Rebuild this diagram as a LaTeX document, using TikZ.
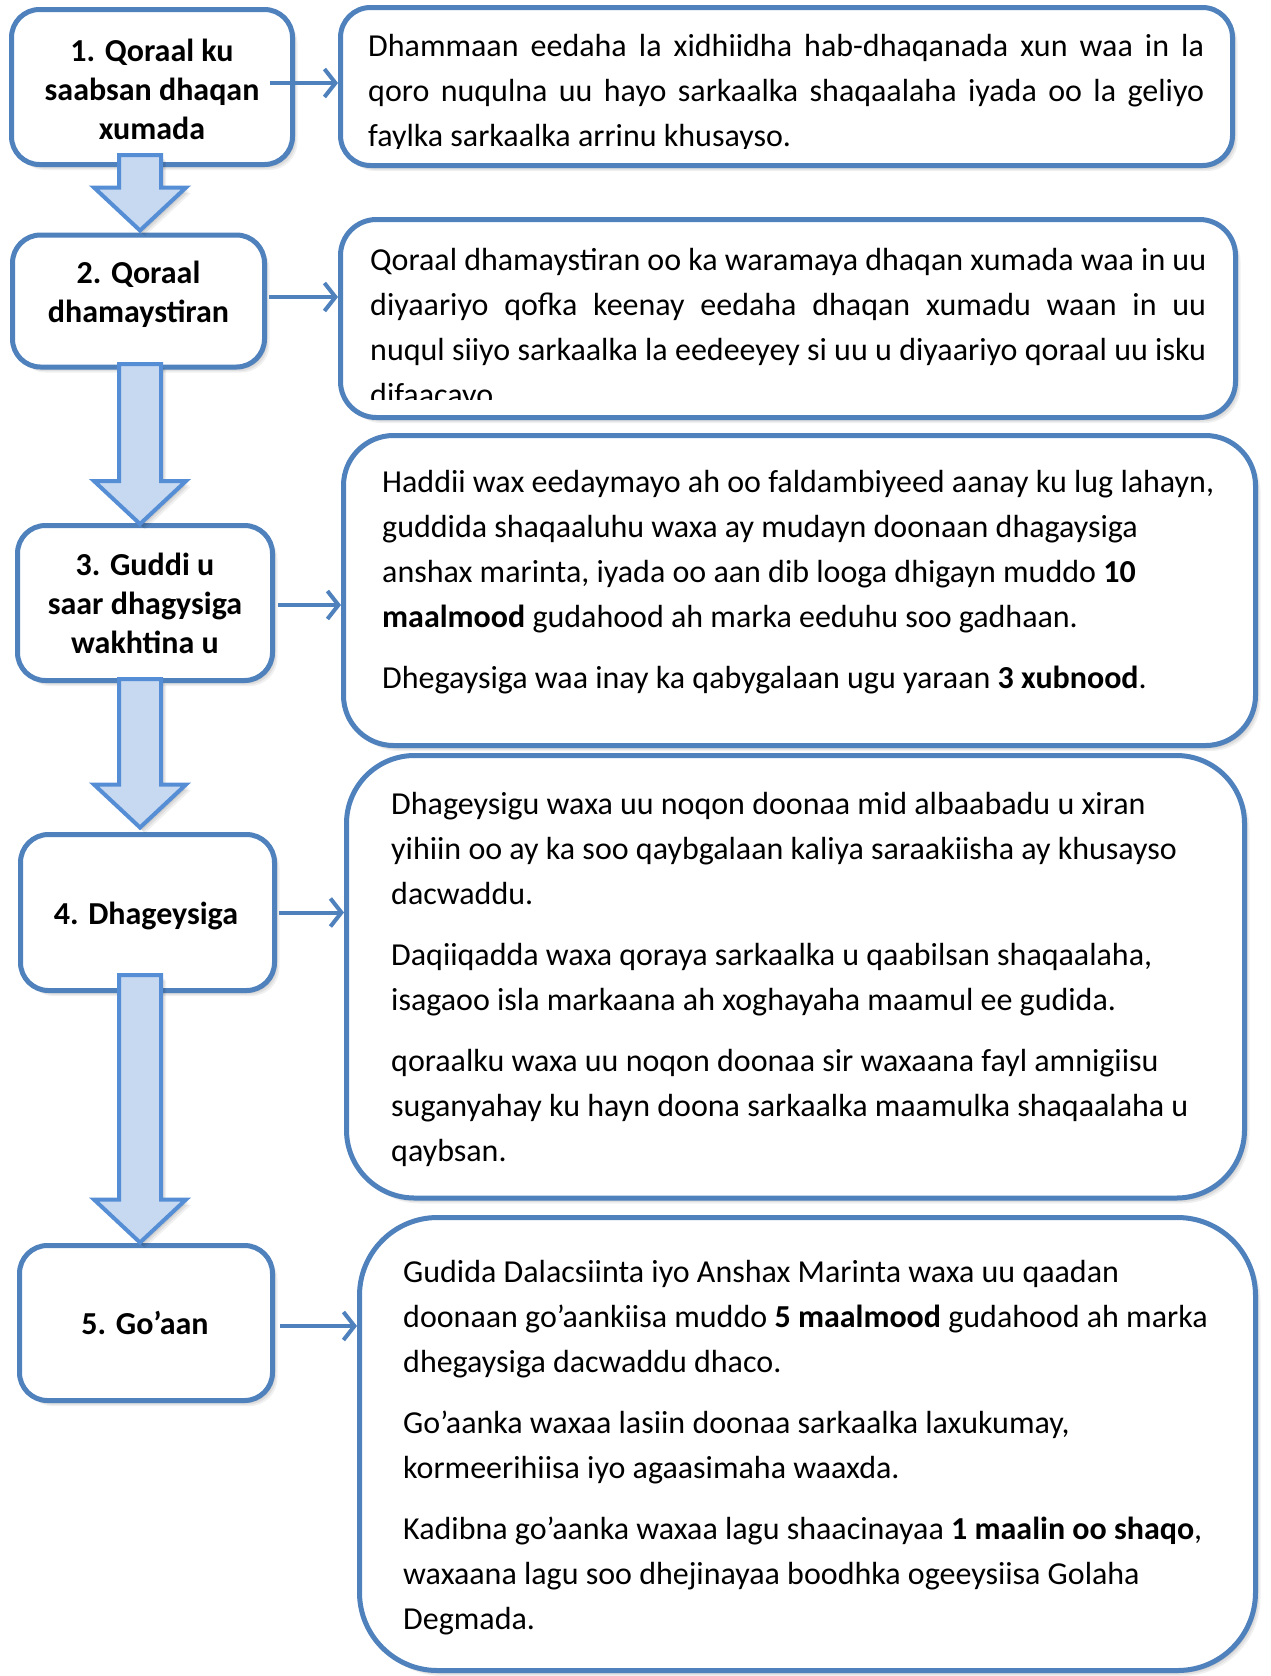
\documentclass[tikz,border=0pt]{standalone}
\usepackage{fontspec}
\setmainfont{Carlito}
\usetikzlibrary{arrows.meta,calc}
\definecolor{bord}{HTML}{4F81BD}
\definecolor{abord}{HTML}{558ED5}
\definecolor{afill}{HTML}{C6D9F1}
\tikzset{
  shd/.style={preaction={fill=black,fill opacity=0.08,draw=none,transform canvas={xshift=2pt,yshift=-2.5pt}},
              preaction={fill=black,fill opacity=0.07,draw=none,transform canvas={xshift=3.5pt,yshift=-4pt}},
              preaction={fill=black,fill opacity=0.06,draw=none,transform canvas={xshift=5pt,yshift=-5.5pt}}},
  lbox/.style={shd, draw=bord, line width=5pt, fill=white, rounded corners=28pt, inner sep=0pt},
  tbox/.style={shd, draw=bord, line width=5pt, fill=white, inner sep=0pt},
  blk/.style={shd, draw=abord, line width=4pt, fill=afill, line join=miter},
  conn/.style={draw=bord, line width=4pt, -{Straight Barb[length=11pt,width=28pt]}},
  lbl/.style={inner sep=0pt, anchor=base, font=\fontsize{32}{39}\selectfont\bfseries},
  txt/.style={inner sep=0pt, anchor=base west, font=\fontsize{32}{45}\selectfont},
}
\newcommand\blockarrow[2]{%
  \path[blk] let \p1=(#1), \p2=(#2) in
   (\x1-21pt,\y1) -- (\x1+21pt,\y1) -- (\x1+21pt,\y2+43pt) -- (\x1+46pt,\y2+43pt)
   -- (\x2,\y2) -- (\x1-46pt,\y2+43pt) -- (\x1-21pt,\y2+43pt) -- cycle;}
\newcommand\jline[1]{\hbox to 836pt{#1}}
\begin{document}
\begin{tikzpicture}[x=1pt,y=-1pt]
\useasboundingbox[fill=white] (0,0) rectangle (1270,1676);

% left boxes
\node[lbox, minimum width=281pt, minimum height=155pt] (b1) at (152,87) {};
\node[lbox, minimum width=252pt, minimum height=132pt] (b2) at (138.5,301) {};
\node[lbox, minimum width=255pt, minimum height=155pt] (b3) at (145,603) {};
\node[lbox, minimum width=254pt, minimum height=156pt] (b4) at (147.5,912.5) {};
\node[lbox, minimum width=253pt, minimum height=155pt] (b5) at (146,1323) {};

\node[lbl] (b1t) at (152,61) {\parbox[t]{276pt}{\centering 1. Qoraal ku\\saabsan dhaqan\\xumada}};
\node[lbl] (b2t) at (138.5,283) {\parbox[t]{246pt}{\centering 2. Qoraal\\dhamaystiran}};
\node[lbl] (b3t) at (145,575) {\parbox[t]{250pt}{\centering 3. Guddi u\\saar dhagysiga\\wakhtina u}};
\node[lbl] (b4t) at (146,924) {\parbox[t]{250pt}{\centering 4. Dhageysiga}};
\node[lbl] (b5t) at (145,1334) {\parbox[t]{250pt}{\centering 5. Go’aan}};

% text boxes
\node[tbox, rounded corners=30pt, minimum width=892pt, minimum height=158pt] (t1) at (786.5,86.5) {};
\node[tbox, rounded corners=36pt, minimum width=895pt, minimum height=198pt] (t2) at (788,318.5) {};
\node[tbox, rounded corners=50pt, minimum width=912pt, minimum height=310pt] (t3) at (799.5,590.5) {};
\node[tbox, rounded corners=68pt, minimum width=898pt, minimum height=442.5pt] (t4) at (795.5,976.75) {};
\node[tbox, rounded corners=78pt, minimum width=896pt, minimum height=453pt] (t5) at (807.5,1444) {};

\begin{scope}
  \clip (345,12) rectangle (1228,148);
  \node[txt] (t1t) at (368,56.5) {\parbox[t]{836pt}{%
    \jline{Dhammaan eedaha la xidhiidha hab-dhaqanada xun waa in la}%
    \jline{qoro nuqulna uu hayo sarkaalka shaqaalaha iyada oo la geliyo}%
    faylka sarkaalka arrinu khusayso.}};
\end{scope}
\begin{scope}
  \clip (345,224) rectangle (1230,399);
  \node[txt] (t2t) at (370,270.5) {\parbox[t]{836pt}{%
    \jline{Qoraal dhamaystiran oo ka waramaya dhaqan xumada waa in uu}%
    \jline{diyaariyo qofka keenay eedaha dhaqan xumadu waan in uu}%
    \jline{nuqul siiyo sarkaalka la eedeeyey si uu u diyaariyo qoraal uu isku}%
    difaacayo}};
\end{scope}

\node[txt] (t3t) at (382,492.5) {\parbox[t]{870pt}{\raggedright\setlength{\parskip}{16pt}%
  Haddii wax eedaymayo ah oo faldambiyeed aanay ku lug lahayn,\\
  guddida shaqaaluhu waxa ay mudayn doonaan dhagaysiga\\
  anshax marinta, iyada oo aan dib looga dhigayn muddo \textbf{10}\\
  \textbf{maalmood} gudahood ah marka eeduhu soo gadhaan.\par
  Dhegaysiga waa inay ka qabygalaan ugu yaraan \textbf{3 xubnood}.}};

\node[txt] (t4t) at (391,814.5) {\parbox[t]{850pt}{\raggedright\setlength{\parskip}{16pt}%
  Dhageysigu waxa uu noqon doonaa mid albaabadu u xiran\\
  yihiin oo ay ka soo qaybgalaan kaliya saraakiisha ay khusayso\\
  dacwaddu.\par
  Daqiiqadda waxa qoraya sarkaalka u qaabilsan shaqaalaha,\\
  isagaoo isla markaana ah xoghayaha maamul ee gudida.\par
  qoraalku waxa uu noqon doonaa sir waxaana fayl amnigiisu\\
  suganyahay ku hayn doona sarkaalka maamulka shaqaalaha u\\
  qaybsan.}};

\node[txt] (t5t) at (403,1282) {\parbox[t]{840pt}{\raggedright\setlength{\parskip}{16pt}%
  Gudida Dalacsiinta iyo Anshax Marinta waxa uu qaadan\\
  doonaan go’aankiisa muddo \textbf{5 maalmood} gudahood ah marka\\
  dhegaysiga dacwaddu dhaco.\par
  Go’aanka waxaa lasiin doonaa sarkaalka laxukumay,\\
  kormeerihiisa iyo agaasimaha waaxda.\par
  Kadibna go’aanka waxaa lagu shaacinayaa \textbf{1 maalin oo shaqo},\\
  waxaana lagu soo dhejinayaa boodhka ogeeysiisa Golaha\\
  Degmada.}};

% block arrows
\coordinate (a1s) at (140,155);  \coordinate (a1e) at (140,230.5);
\coordinate (a2s) at (140,364);  \coordinate (a2e) at (140,524);
\coordinate (a3s) at (140,679);  \coordinate (a3e) at (140,827.5);
\coordinate (a4s) at (140,975);  \coordinate (a4e) at (140,1242.5);
\blockarrow{a1s}{a1e}
\blockarrow{a2s}{a2e}
\blockarrow{a3s}{a3e}
\blockarrow{a4s}{a4e}

% small connectors
\coordinate (c1) at ([yshift=4pt]b1.east);
\coordinate (c2) at ([yshift=4pt]b2.east);
\coordinate (c3) at ([yshift=-2pt]b3.east);
\coordinate (c4) at (b4.east);
\coordinate (c5) at ([yshift=-3pt]b5.east);
\draw[conn] ([xshift=-25pt]c1) -- (c1 -| t1.west);
\draw[conn] ([xshift=2pt]c2) -- (c2 -| t2.west);
\draw[conn] ([xshift=3pt]c3) -- (c3 -| t3.west);
\draw[conn] ([xshift=2pt]c4) -- (c4 -| t4.west);
\draw[conn] ([xshift=5pt]c5) -- (c5 -| t5.west);
\end{tikzpicture}
\end{document}
